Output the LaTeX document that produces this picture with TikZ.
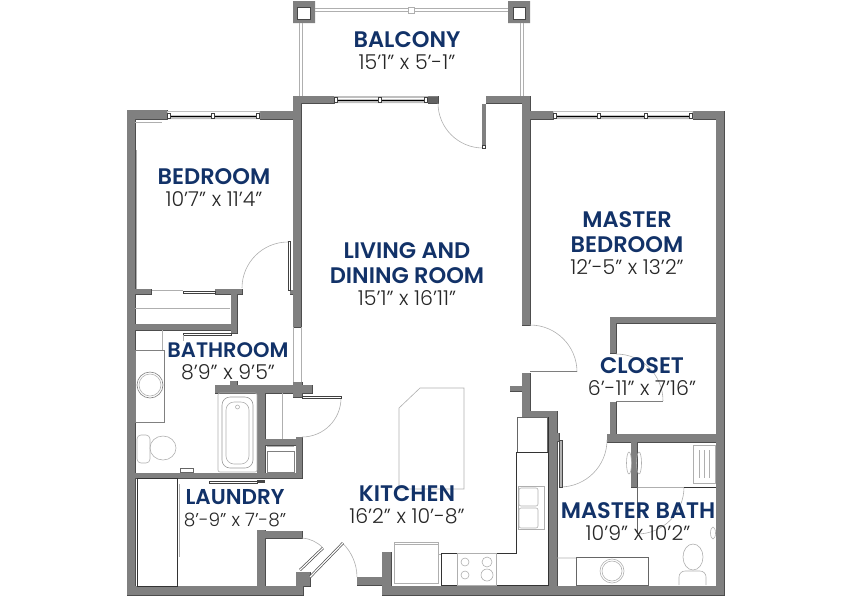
\documentclass[tikz,border=0pt]{standalone}
\usepackage{fontspec}
\setmainfont{Poppins Light}[BoldFont={Poppins SemiBold}]
\usepackage{tikz}
\definecolor{wallgray}{RGB}{128,128,128}
\definecolor{walldark}{RGB}{70,70,70}
\definecolor{planline}{RGB}{175,175,175}
\definecolor{labelnavy}{RGB}{18,50,104}
\tikzstyle{walledge} = [draw=walldark, line width=0.7pt]
\tikzstyle{wallfill} = [fill=wallgray]
\tikzstyle{swing} = [draw=planline, line width=0.6pt]
\tikzstyle{fixture} = [draw=planline, line width=0.6pt]
\tikzstyle{cabinet} = [draw=black!80, line width=0.8pt]
\tikzstyle{leaf} = [draw=black!75, line width=0.5pt, fill=white]
\tikzstyle{glass} = [draw=black, line width=1pt]
\tikzstyle{roomlabel} = [align=center, text=black!85, font=\fontsize{20.5}{22}\selectfont, inner sep=0pt]
\newcommand{\roomname}[2][22.5]{{\fontsize{#1}{25}\selectfont\bfseries\color{labelnavy}#2}}
\newcommand{\wallrects}{
  (127,110) rectangle (135,595) (127,110) rectangle (167,119) (260,111) rectangle (293,119)
  (293,96) rectangle (301,327) (293,96) rectangle (334,103) (428,96) rectangle (438,103)
  (486,96) rectangle (530,103) (522,96) rectangle (530,325) (522,111) rectangle (553,119)
  (693,111) rectangle (724,119) (716,111) rectangle (724,595)
  (127,586) rectangle (303,595) (382,586) rectangle (724,595) (382,552) rectangle (391,595)
  (357,577) rectangle (382,585) (127,473) rectangle (302,478)
  (215,385) rectangle (312,393) (293,382) rectangle (302,397) (230,381) rectangle (237,385)
  (257,385) rectangle (265,478) (265,439) rectangle (302,445) (296,437) rectangle (302,478)
  (135,289) rectangle (151,294) (215,289) rectangle (242,294) (231,289) rectangle (237,333)
  (135,324) rectangle (237,330) (290,290) rectangle (293,294)
  (257,530) rectangle (265,586) (257,531) rectangle (302,538)
  (296,572) rectangle (310,586)
  (522,373) rectangle (530,417) (510,386) rectangle (522,391) (522,411) rectangle (557,417)
  (549,411) rectangle (557,595) (557,433) rectangle (559,441)
  (610,317) rectangle (616,353) (610,317) rectangle (716,323) (610,402) rectangle (616,442)
  (607,434) rectangle (716,442) (631,434) rectangle (637,487)
}

\begin{document}
\begin{tikzpicture}[x=1pt, y=-1pt]
\useasboundingbox (0,0) rectangle (850,600);

% balcony
\fill [wallgray] (293,1) rectangle (315,23) (508,1) rectangle (530,23);
\draw [walldark, fill=white, line width=0.6pt] (297,7) rectangle (310,19) (513,7) rectangle (525,19);
\draw [fixture] (315,8.5) -- (508,8.5) (315,11.5) -- (508,11.5);
\draw [fixture] (299.5,23) -- (299.5,96) (302.5,23) -- (302.5,96) (520.5,23) -- (520.5,96) (523.5,23) -- (523.5,96);
\draw [fixture, fill=white, line width=1pt] (408,7) rectangle (414,13);

% walls
\path [walledge] \wallrects;
\path [wallfill] \wallrects;
\draw [fixture] (293.5,327) -- (293.5,382) (301,327) -- (301,382);

% windows
\fill [black!25] (334,96) rectangle (428,103) (167,111) rectangle (260,119) (553,111) rectangle (693,119);
\fill [white] (335,98) rectangle (427,99) (168,112) rectangle (259,115) (554,112) rectangle (692,115);
\draw [glass] (337,100) -- (425,100);
\draw [glass] (170,116) -- (257,116);
\draw [glass] (556,116) -- (690,116);
\foreach \mx/\my in {380/100, 213/116, 599/116, 646/116, 336/100, 426/100, 169/116, 258/116, 555/116, 691/116}
  \draw [leaf] (\mx-1.5,\my-2.5) rectangle (\mx+1.5,\my+2.5);
\fill [walldark!85] (428,97) rectangle (438,103);

% doors
\draw [swing] (438,103) arc (180:90:45);
\draw [swing] (242,288) arc (180:270:46);
\draw [swing] (341,398) arc (0:90:39);
\draw [swing] (530,325) arc (270:360:47);
\draw [swing] (616,354) arc (270:360:47);
\draw [swing] (607,440) arc (0:90:47);
\draw [swing] (684,487) arc (0:90:47);
\draw [swing] (302,538) arc (-86:-44:32);
\draw [swing] (342.6,543.2) arc (-46:0:47);
\fill [wallgray] (482,104) rectangle (486,146);
\draw [leaf] (482.5,145) rectangle (485.5,148);
\draw [leaf] (288,241) rectangle (290.5,290);
\draw [leaf] (302,396) rectangle (341,398.5);
\draw [draw=walldark!70, line width=1.6pt] (530,371.5) -- (577,371.5) (616,401.5) -- (663,401.5);
\draw [fill=wallgray!60, draw=walldark, line width=0.4pt] (559,440) rectangle (562,487);
\draw [black!70, line width=2.6pt] (300,570) -- (323,548) (310,577) -- (343,543);
\draw [white, line width=1.2pt] (300,570) -- (323,548) (310,577) -- (343,543);

% bedroom and closets
\draw [fixture] (135,308) -- (230,308) (135,122) -- (162,122) (136.5,150) -- (136.5,289);
\draw [fixture, line width=1pt] (152,290.5) -- (183,290.5);
\draw [leaf] (183,291) rectangle (215,293);
\draw [leaf] (183,333) rectangle (231,335.5);
\draw [fixture] (183,335) -- (183,341);
\draw [leaf] (209,481) rectangle (257,483.5);
\fill [walldark] (257,480) rectangle (265,483);

% bathroom
\draw [fixture] (162,330) -- (162,350);
\draw [fixture, draw=black!50] (135,350) rectangle (164,422);
\draw [fixture, draw=black!50] (150,385) circle [radius=13];
\draw [fixture] (150,385) circle [radius=11];
\draw [fixture, rounded corners=2pt] (218,393) rectangle (257,472);
\draw [fixture, rounded corners=8pt, draw=black!40] (222,397) rectangle (253,468);
\draw [fixture, rounded corners=8pt] (226,402) rectangle (249,464);
\draw [fixture] (237.5,407) circle [radius=2];
\draw [fixture, rounded corners=4pt] (137,435) rectangle (150,463);
\draw [fixture] (163,448) ellipse [x radius=13, y radius=12];
\draw [fixture, fill=white, draw=black!60] (180,468) rectangle (193,472);
\draw [fixture] (282,393) -- (282,439);
\draw [fixture, draw=black!50] (267,451) rectangle (294,472);
\draw [fixture] (267,446) -- (294,446);

% laundry
\draw [cabinet, fill=white] (137,478) rectangle (177,586);
\draw [fixture] (179,484) -- (179,557);

% kitchen
\draw [fixture] (399,408) -- (420,388) -- (464,388) -- (464,489) -- (399,489) -- cycle;
\draw [fixture, draw=black!60] (517,417) rectangle (547,452);
\draw [cabinet] (516,452) -- (547.5,452) (516,452) -- (516,553) -- (496,553) -- (496,585) -- (548,585) -- (548,417);
\draw [fixture] (518,486) rectangle (544,529);
\draw [fixture, rounded corners=2pt] (519,488) rectangle (538,506) (519,508) rectangle (538,528);
\draw [cabinet] (441,553) rectangle (457,585);
\draw [fixture] (457,553) rectangle (496,585);
\draw [fixture] (465,562) circle [radius=4] (465,575) circle [radius=4] (487,562) circle [radius=5] (487,575) circle [radius=6];
\draw [fixture] (394,542) rectangle (438,583);
\draw [fixture] (394,544.5) -- (438,544.5) (438,554) -- (441,554);

% master bath
\draw [fixture] (693,445) rectangle (715,483);
\draw [fixture] (699,450) -- (699,478) (704,450) -- (704,478) (709,450) -- (709,478);
\draw [cabinet] (684,487) -- (716,487);
\draw [fixture] (637,487) -- (684,487);
\draw [draw=black!60, line width=0.6pt] (637,487) -- (637,533);
\draw [fixture] (629,463) ellipse [x radius=2.5, y radius=11] (639,463) ellipse [x radius=2.5, y radius=11];
\draw [fixture] (713,533) ellipse [x radius=2.5, y radius=6];
\draw [fixture] (693,557) ellipse [x radius=10, y radius=13];
\draw [fixture, rounded corners=6pt] (679,585) -- (679,571) -- (706,571) -- (706,585);
\draw [fixture, draw=black!60] (576,557) rectangle (648,585);
\draw [fixture] (612,571) circle [radius=12] (612,571) circle [radius=10] (557,558) -- (576,558);

% labels
\node [roomlabel] (balcony) at (407,51) {\roomname{BALCONY}\\15’1” x 5’-1”};
\node [roomlabel] (bedroom) at (214,188) {\roomname{BEDROOM}\\10’7” x 11’4”};
\node [roomlabel] (livingroom) at (407,274) {\roomname{LIVING AND}\\[3pt]\roomname{DINING ROOM}\\15’1” x 16’11”};
\node [roomlabel] (masterbedroom) at (627,243) {\roomname{MASTER}\\[3pt]\roomname{BEDROOM}\\12’-5” x 13’2”};
\node [roomlabel] (bathroom) at (228,361) {\roomname[21]{BATHROOM}\\8’9” x 9’5”};
\node [roomlabel] (closet) at (642,377) {\roomname{CLOSET}\\6’-11” x 7’16”};
\node [roomlabel] (laundry) at (235,508) {\roomname[21.5]{LAUNDRY}\\\fontsize{18.5}{22}\selectfont 8’-9” x 7’-8”};
\node [roomlabel] (kitchen) at (407,505) {\roomname{KITCHEN}\\16’2” x 10’-8”};
\node [roomlabel] (masterbath) at (638,522) {\roomname{MASTER BATH}\\10’9” x 10’2”};
\end{tikzpicture}
\end{document}
